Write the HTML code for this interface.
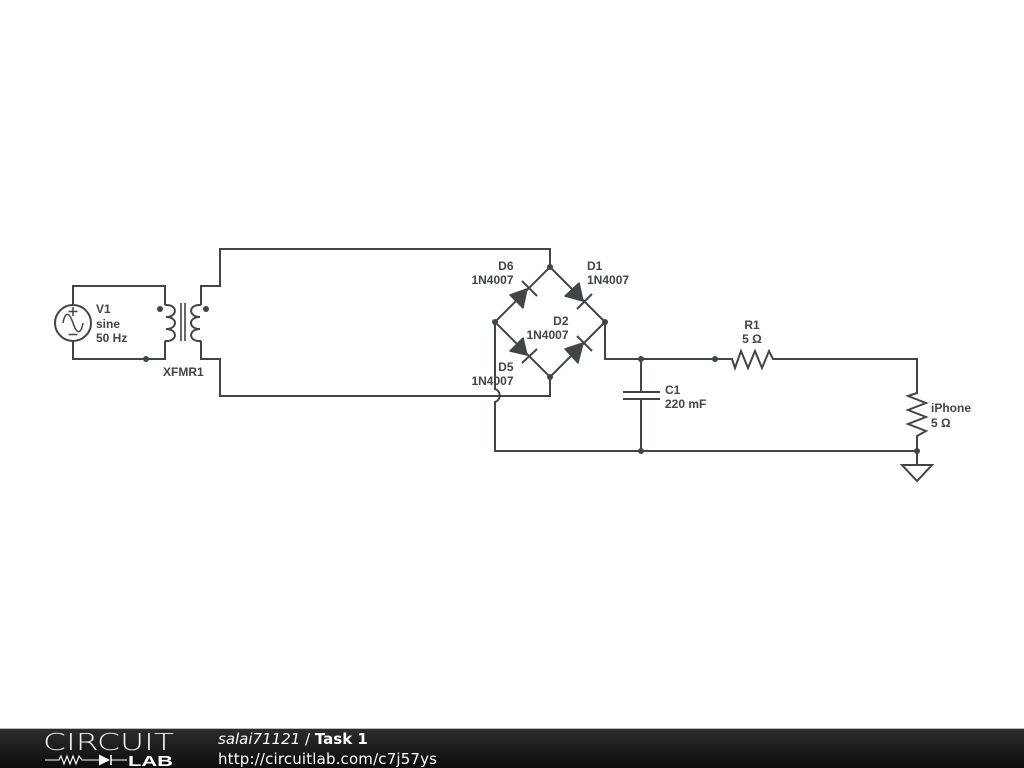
<!DOCTYPE html>
<html><head><meta charset="utf-8"><style>
html,body{margin:0;padding:0;background:#fff;width:1024px;height:768px;overflow:hidden}
svg{display:block}
.l{font:bold 12px "Liberation Sans",sans-serif;fill:#404547}
.w{fill:none;stroke:#404547;stroke-width:2;stroke-linejoin:miter}
.d{fill:#404547}
</style></head><body>
<svg width="1024" height="768" viewBox="0 0 1024 768" xmlns="http://www.w3.org/2000/svg">
<defs><linearGradient id="g" x1="0" y1="0" x2="0" y2="1"><stop offset="0" stop-color="#2c2c2c"/><stop offset="1" stop-color="#0c0c0c"/></linearGradient></defs>
<rect width="1024" height="768" fill="#fff"/>
<!-- source -->
<path class="w" d="M73 305V286H165V305M73 341V359H165V341"/>
<circle class="w" cx="73" cy="323" r="18"/>
<path class="w" style="stroke-width:1.5" d="M63 323C65 312 69 311 73 323C77 335 81 334 83 323M73 307V316M68.500 311.500H77.500M68.500 334.500H77.500"/>
<!-- transformer -->
<path class="w" d="M165 305C178 304 178 317 166 317C178 317 178 329 166 329C178 329 178 342 165 341"/>
<path class="w" d="M201 305C188 304 188 317 200 317C188 317 188 329 200 329C188 329 188 342 201 341"/>
<path class="w" style="stroke-width:1.6" d="M181 303V341M185 303V341"/>
<circle class="d" cx="160" cy="309" r="3"/><circle class="d" cx="206" cy="309" r="3"/>
<path class="w" d="M201 305V286H220V249H550V267M201 341V359H220V396H550V377"/>
<!-- bridge -->
<path class="w" d="M495 322L550 267L605 322L550 377Z"/>
<path class="w" d="M495 322V389A6.800 6.800 0 0 1 495 402V451H917M605 322V359H732L735 368L741 351L748 368L755 351L762 368L769 351L773 359H917V393L908 396L926 403L908 410L926 417L908 424L926 431L917 436V465"/>
<path class="d" stroke="#404547" stroke-width="1.500" stroke-linejoin="round" d="M583 301L579 283L565 296Z M527 289L510 295L523 308Z M527 355L523 338L510 351Z M583 343L565 349L578 363Z"/>
<path class="w" d="M577 309L592 294M522 281L537 296M522 363L537 349M577 336L592 351"/>
<!-- capacitor -->
<path class="w" d="M641 359V392M641 399V451M623 392H660M623 399H660"/>
<path class="w" d="M902 465H932L917 481Z"/>
<g class="d">
<circle cx="146" cy="359" r="3"/><circle cx="550" cy="267" r="3"/><circle cx="495" cy="322" r="3"/><circle cx="605" cy="322" r="3"/><circle cx="550" cy="377" r="3"/>
<circle cx="641" cy="359" r="3"/><circle cx="641" cy="451" r="3"/><circle cx="715" cy="359" r="3"/><circle cx="917" cy="451" r="3"/>
</g>
<!-- labels -->
<text class="l" x="96" y="313">V1</text><text class="l" x="96" y="328">sine</text><text class="l" x="96" y="342">50 Hz</text>
<text class="l" x="163" y="376">XFMR1</text>
<text class="l" x="513.500" y="270" text-anchor="end">D6</text><text class="l" x="513.500" y="284" text-anchor="end">1N4007</text>
<text class="l" x="587" y="270">D1</text><text class="l" x="587" y="284">1N4007</text>
<text class="l" x="568.500" y="325" text-anchor="end">D2</text><text class="l" x="568.500" y="339" text-anchor="end">1N4007</text>
<text class="l" x="513.500" y="371" text-anchor="end">D5</text><text class="l" x="513.500" y="385" text-anchor="end">1N4007</text>
<text class="l" x="752" y="329" text-anchor="middle">R1</text><text class="l" x="752" y="343" text-anchor="middle">5 Ω</text>
<text class="l" x="665" y="394">C1</text><text class="l" x="665" y="408">220 mF</text>
<text class="l" x="931" y="412">iPhone</text><text class="l" x="931" y="427">5 Ω</text>
<!-- footer -->
<rect x="0" y="729" width="1024" height="39" fill="url(#g)"/>
<rect x="0" y="728" width="1024" height="1" fill="#bbb"/>
<text x="43" y="750" font-family="DejaVu Sans,sans-serif" font-weight="200" font-size="23" fill="#f0f0f0" textLength="131" lengthAdjust="spacingAndGlyphs">CIRCUIT</text>
<path d="M45 760H59L61 756L64 764L67 756L70 764L73 756L76 764L79 756L82 760H99M111 760H127" fill="none" stroke="#fff" stroke-width="1.1"/>
<path d="M99 754.500L110 760L99 765.500Z" fill="#fff"/><path d="M111 755V765" stroke="#fff" stroke-width="1.5"/>
<text x="128" y="766" font-family="Liberation Sans,sans-serif" font-size="15" font-weight="bold" fill="#fff" textLength="45" lengthAdjust="spacingAndGlyphs">LAB</text>
<text x="218" y="744" font-family="DejaVu Sans,sans-serif" font-size="15" fill="#fff"><tspan font-style="italic">salai71121</tspan> / <tspan font-weight="bold">Task 1</tspan></text>
<text x="218" y="764" font-family="DejaVu Sans,sans-serif" font-size="15" fill="#fff" textLength="219">http://circuitlab.com/c7j57ys</text>
</svg>
</body></html>
